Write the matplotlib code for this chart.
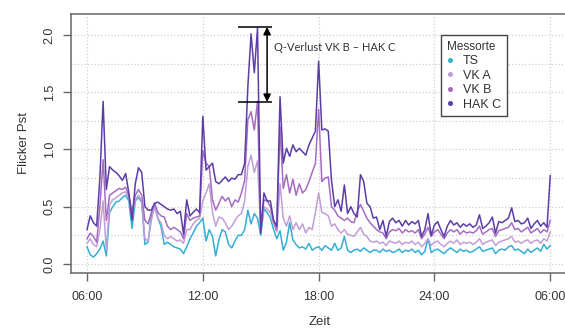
import numpy as np
import matplotlib.pyplot as plt
from matplotlib.lines import Line2D

plt.rcParams['font.family'] = ['Liberation Sans', 'DejaVu Sans']

# 10-Minuten-Werte Flicker Pst, 06:00 bis 06:00 (Folgetag)
hak_c = [
    0.30, 0.42, 0.36, 0.33, 0.75, 1.42,  # 06
    0.65, 0.85, 0.82, 0.80, 0.77, 0.73,  # 07
    0.79, 0.62, 0.38, 0.70, 0.84, 0.80,  # 08
    0.50, 0.47, 0.47, 0.53, 0.54, 0.52,  # 09
    0.50, 0.48, 0.47, 0.48, 0.44, 0.46,  # 10
    0.26, 0.56, 0.42, 0.45, 0.48, 0.45,  # 11
    1.29, 0.82, 0.85, 0.88, 0.72, 0.70,  # 12
    0.73, 0.76, 0.72, 0.75, 0.74, 0.78,  # 13
    0.78, 0.88, 1.55, 2.01, 1.67, 2.06,  # 14
    0.27, 0.62, 0.55, 0.55, 0.38, 0.33,  # 15
    1.46, 0.88, 1.01, 0.94, 1.04, 0.98,  # 16
    1.01, 0.98, 0.95, 1.04, 1.10, 1.16,  # 17
    1.77, 1.17, 1.18, 1.16, 0.73, 0.50,  # 18
    0.56, 0.46, 0.69, 0.44, 0.50, 0.44,  # 19
    0.41, 0.78, 0.72, 0.53, 0.50, 0.40,  # 20
    0.41, 0.30, 0.38, 0.24, 0.37, 0.40,  # 21
    0.36, 0.38, 0.33, 0.38, 0.34, 0.37,  # 22
    0.35, 0.38, 0.24, 0.30, 0.44, 0.25,  # 23
    0.34, 0.37, 0.30, 0.24, 0.33, 0.38,  # 24
    0.34, 0.36, 0.32, 0.35, 0.33, 0.35,  # 01
    0.32, 0.34, 0.43, 0.31, 0.33, 0.36,  # 02
    0.41, 0.27, 0.37, 0.36, 0.38, 0.40,  # 03
    0.49, 0.37, 0.38, 0.35, 0.36, 0.40,  # 04
    0.31, 0.35, 0.38, 0.33, 0.36, 0.32,  # 05
    0.77,
]
vk_b = [
    0.22, 0.27, 0.24, 0.19, 0.50, 0.91,
    0.38, 0.60, 0.62, 0.64, 0.66, 0.65,
    0.67, 0.60, 0.45, 0.60, 0.65, 0.60,
    0.38, 0.35, 0.45, 0.53, 0.45, 0.42,
    0.41, 0.33, 0.30, 0.32, 0.30, 0.28,
    0.22, 0.44, 0.38, 0.40, 0.41, 0.42,
    0.99, 0.88, 0.85, 0.56, 0.47, 0.53,
    0.59, 0.55, 0.58, 0.50, 0.56, 0.54,
    0.62, 0.73, 1.26, 1.33, 1.17, 1.42,
    0.30, 0.56, 0.55, 0.50, 0.38, 0.30,
    1.20, 0.66, 0.78, 0.62, 0.74, 0.60,
    0.70, 0.62, 0.65, 0.72, 0.80, 0.88,
    1.35, 0.72, 0.75, 0.76, 0.50, 0.47,
    0.42, 0.40, 0.38, 0.40, 0.37, 0.36,
    0.46, 0.52, 0.46, 0.40, 0.36, 0.33,
    0.30, 0.28, 0.27, 0.22, 0.28, 0.30,
    0.29, 0.31, 0.27, 0.30, 0.28, 0.29,
    0.27, 0.30, 0.22, 0.26, 0.32, 0.24,
    0.28, 0.30, 0.26, 0.22, 0.27, 0.30,
    0.28, 0.30, 0.26, 0.29, 0.27, 0.28,
    0.27, 0.29, 0.33, 0.26, 0.28, 0.30,
    0.31, 0.24, 0.29, 0.30, 0.31, 0.32,
    0.36, 0.30, 0.31, 0.28, 0.30, 0.32,
    0.27, 0.29, 0.31, 0.27, 0.30, 0.28,
    0.38,
]
vk_a = [
    0.18, 0.22, 0.17, 0.15, 0.30, 0.55,
    0.12, 0.52, 0.56, 0.58, 0.60, 0.62,
    0.63, 0.58, 0.40, 0.56, 0.60, 0.55,
    0.22, 0.20, 0.38, 0.50, 0.40, 0.36,
    0.25, 0.22, 0.24, 0.22, 0.20, 0.21,
    0.18, 0.30, 0.30, 0.35, 0.38, 0.40,
    0.55, 0.62, 0.70, 0.45, 0.33, 0.41,
    0.40, 0.36, 0.30, 0.33, 0.38, 0.42,
    0.44, 0.55, 0.85, 0.95, 0.80, 0.90,
    0.28, 0.50, 0.48, 0.45, 0.35, 0.28,
    0.70, 0.40, 0.33, 0.42, 0.30, 0.36,
    0.30, 0.35, 0.27, 0.32, 0.30, 0.45,
    0.62, 0.45, 0.44, 0.42, 0.33, 0.35,
    0.30, 0.27, 0.30, 0.26, 0.25, 0.24,
    0.28, 0.32, 0.26, 0.24, 0.20, 0.19,
    0.20, 0.18, 0.19, 0.16, 0.20, 0.19,
    0.18, 0.20, 0.17, 0.19, 0.18, 0.20,
    0.17, 0.19, 0.15, 0.18, 0.22, 0.16,
    0.19, 0.20, 0.17, 0.15, 0.18, 0.20,
    0.18, 0.21, 0.17, 0.19, 0.18, 0.19,
    0.17, 0.19, 0.22, 0.17, 0.19, 0.20,
    0.21, 0.16, 0.19, 0.20, 0.21, 0.22,
    0.24, 0.19, 0.20, 0.18, 0.20, 0.21,
    0.18, 0.20, 0.21, 0.18, 0.22, 0.20,
    0.28,
]
ts = [
    0.15, 0.08, 0.06, 0.09, 0.13, 0.20,
    0.07, 0.45, 0.50, 0.54, 0.55, 0.58,
    0.60, 0.55, 0.31, 0.55, 0.58, 0.54,
    0.17, 0.19, 0.43, 0.53, 0.40, 0.33,
    0.17, 0.19, 0.17, 0.15, 0.14, 0.13,
    0.09, 0.15, 0.22, 0.27, 0.33, 0.36,
    0.40, 0.20, 0.30, 0.24, 0.07, 0.21,
    0.30, 0.28, 0.17, 0.14, 0.20, 0.25,
    0.25, 0.30, 0.47, 0.35, 0.44, 0.40,
    0.25, 0.48, 0.45, 0.40, 0.30, 0.22,
    0.29, 0.12, 0.19, 0.36, 0.21, 0.17,
    0.14, 0.15, 0.13, 0.18, 0.12, 0.14,
    0.15, 0.12, 0.16, 0.14, 0.12, 0.18,
    0.12, 0.14, 0.24, 0.12, 0.10, 0.12,
    0.13, 0.11, 0.14, 0.12, 0.10, 0.12,
    0.12, 0.10, 0.13, 0.11, 0.12, 0.10,
    0.11, 0.13, 0.10, 0.12, 0.11, 0.13,
    0.10, 0.12, 0.08, 0.11, 0.22, 0.10,
    0.12, 0.13, 0.11, 0.09, 0.12, 0.14,
    0.12, 0.10, 0.13, 0.11, 0.12, 0.10,
    0.11, 0.13, 0.15, 0.11, 0.12, 0.13,
    0.14, 0.09, 0.12, 0.13, 0.12, 0.15,
    0.16, 0.12, 0.13, 0.11, 0.09, 0.13,
    0.10, 0.12, 0.14, 0.11, 0.17, 0.13,
    0.16,
]

labels = ['TS', 'VK A', 'VK B', 'HAK C']
colors = ['#35AED4', '#C29ED6', '#A56CC2', '#5B3DA8']
tick_hours = [6, 12, 18, 24, 30]
tick_labels = ['06:00', '12:00', '18:00', '24:00', '06:00']
y_ticks = [0.0, 0.5, 1.0, 1.5, 2.0]

zeit = 6 + np.arange(len(hak_c)) / 6.0

fig = plt.figure(figsize=(5.65, 3.29), dpi=100)
ax = fig.add_axes([71 / 565, 56 / 329, 497 / 565, 259 / 329])

for serie, c in zip([ts, vk_a, vk_b, hak_c], colors):
    ax.plot(zeit, serie, color=c, linewidth=1.1)

ax.set_xlim(5.17, 30.92)
ax.set_ylim(-0.079, 2.183)
ax.set_xticks(tick_hours)
ax.set_xticklabels(tick_labels)
ax.set_yticks(y_ticks)
ax.set_yticklabels([f'{v:.1f}' for v in y_ticks], rotation=90, va='center')
ax.set_yticks(np.arange(0, 2.01, 0.25), minor=True)
ax.tick_params(which='minor', length=0)
ax.tick_params(which='major', length=6, width=1, color='#666666',
               labelcolor='#333333', labelsize=9)
ax.tick_params(axis='y', pad=5)
ax.tick_params(axis='x', pad=7)
ax.grid(which='both', axis='y', linestyle=':', color='#cfcfcf', linewidth=0.9)
ax.grid(which='major', axis='x', linestyle=':', color='#cfcfcf', linewidth=0.9)
for s in ax.spines.values():
    s.set_color('#666666')
    s.set_linewidth(1.1)

ax.set_xlabel('Zeit', fontsize=9.5, color='#333333', labelpad=9)
ax.set_ylabel('Flicker Pst', fontsize=9.5, color='#333333', labelpad=10)

# Q-Verlust Markierung
ax.hlines([2.07, 1.415], 13.82, 15.58, color='black', linewidth=1.1)
ax.annotate('', xy=(15.33, 1.415), xytext=(15.33, 2.07),
            arrowprops=dict(arrowstyle='<|-|>', color='black', lw=1.1,
                            mutation_scale=11, shrinkA=0, shrinkB=0))
ax.text(15.68, 1.89, 'Q-Verlust VK B \u2013 HAK C', family='Lato', fontsize=8,
        color='#333333', ha='left', va='center')

handles = [Line2D([], [], linestyle='none', marker='o', markersize=2.6, color=c)
           for c in colors]
leg = ax.legend(handles, labels, title='Messorte', loc='upper left',
                bbox_to_anchor=(441 / 565, 1 - 35 / 329), bbox_transform=fig.transFigure,
                borderaxespad=0, fancybox=False, edgecolor='#444444', framealpha=1,
                fontsize=9, title_fontsize=8.5, handlelength=0.6, handletextpad=0.7,
                borderpad=0.45, labelspacing=0.2, alignment='left')
leg.get_frame().set_linewidth(1.0)
for t in leg.get_texts():
    t.set_color('#333333')
leg.get_title().set_color('#333333')

fig.savefig('out.png', dpi=100)
